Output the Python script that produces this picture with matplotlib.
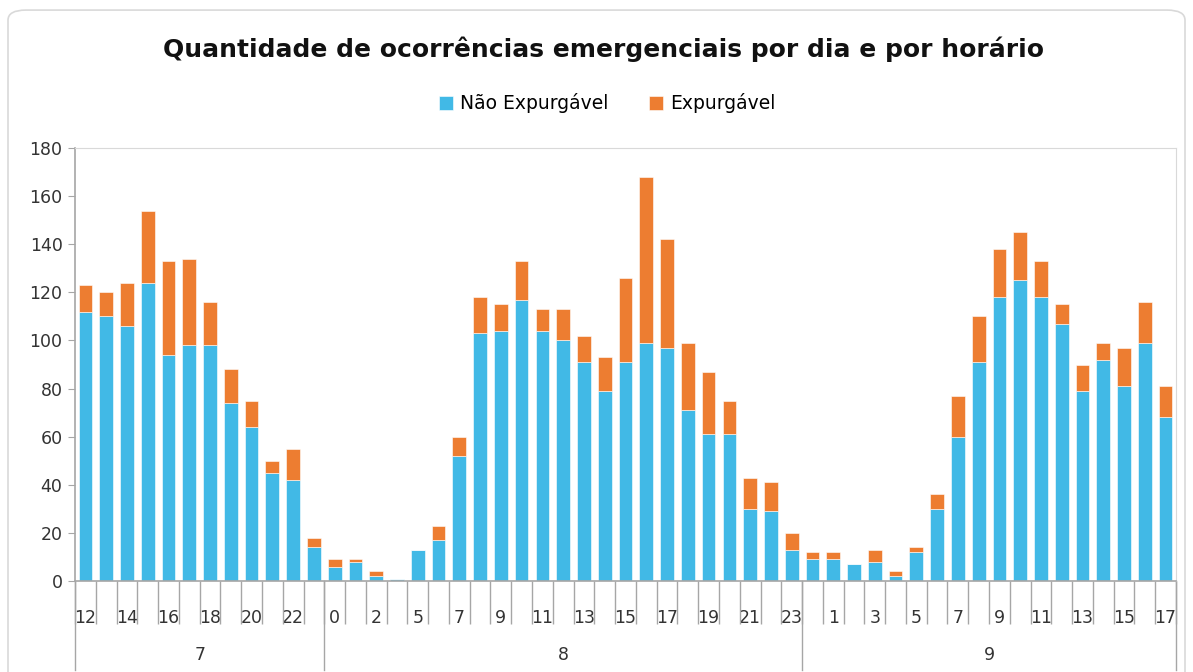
import matplotlib.pyplot as plt
from matplotlib.patches import FancyBboxPatch
import matplotlib.transforms as mtransforms

# hours per day (day 8 has no hour 4)
days = ['7', '8', '9']
hours_d7 = list(range(12, 24))
hours_d8 = [0, 1, 2, 3] + list(range(5, 24))
hours_d9 = list(range(0, 18))

nao_expurgavel = [
    # day 7
    112, 110, 106, 124, 94, 98, 98, 74, 64, 45, 42, 14,
    # day 8
    6, 8, 2, 1, 13, 17, 52, 103, 104, 117, 104, 100,
    91, 79, 91, 99, 97, 71, 61, 61, 30, 29, 13,
    # day 9
    9, 9, 7, 8, 2, 12, 30, 60, 91, 118, 125, 118,
    107, 79, 92, 81, 99, 68,
]
expurgavel = [
    11, 10, 18, 30, 39, 36, 18, 14, 11, 5, 13, 4,
    3, 1, 2, 0, 0, 6, 8, 15, 11, 16, 9, 13,
    11, 14, 35, 69, 45, 28, 26, 14, 13, 12, 7,
    3, 3, 0, 5, 2, 2, 6, 17, 19, 20, 20, 15,
    8, 11, 7, 16, 17, 13,
]

hours = hours_d7 + hours_d8 + hours_d9
group_sizes = [len(hours_d7), len(hours_d8), len(hours_d9)]
x = list(range(len(hours)))

blue = '#41B9E6'
orange = '#ED7D31'
txt = '#333333'

fig = plt.figure(figsize=(11.93, 6.72), dpi=100)
ax = fig.add_axes([75 / 1193, 91 / 672, 1101 / 1193, 433 / 672])

ax.bar(x, nao_expurgavel, width=0.66, color=blue, edgecolor='white',
       linewidth=0.4, label='Não Expurgável')
ax.bar(x, expurgavel, width=0.66, bottom=nao_expurgavel, color=orange,
       edgecolor='white', linewidth=0.4, label='Expurgável')

ax.set_xlim(-0.5, len(hours) - 0.5)
ax.set_ylim(0, 180)
ax.set_yticks(range(0, 181, 20))
ax.tick_params(axis='y', labelsize=12.5, length=5, color='#A6A6A6',
               labelcolor=txt, pad=4)

# hour labels every other category
ax.set_xticks(x[::2])
ax.set_xticklabels([str(h) for h in hours[::2]], fontsize=12.5, color=txt)
ax.tick_params(axis='x', length=0, pad=20)

# category separators
ax.set_xticks([i - 0.5 for i in range(len(hours) + 1)], minor=True)
ax.tick_params(axis='x', which='minor', length=31, width=1.0, color='#A6A6A6',
               direction='out')

for s in ['top', 'right']:
    ax.spines[s].set_color('#D9D9D9')
for s in ['left', 'bottom']:
    ax.spines[s].set_color('#A6A6A6')
    ax.spines[s].set_linewidth(1.2)

# day groups
trans = mtransforms.blended_transform_factory(ax.transData, ax.transAxes)
start = 0
bounds = [-0.5]
for d, n in zip(days, group_sizes):
    mid = start + (n - 1) / 2
    ax.text(mid, -0.17, d, transform=trans, ha='center', va='center',
            fontsize=12.5, color=txt)
    start += n
    bounds.append(start - 0.5)
for b in bounds:
    ax.plot([b, b], [0, -0.205], transform=trans, color='#A6A6A6',
            linewidth=1.0, clip_on=False)

fig.text(0.506, 0.927, 'Quantidade de ocorrências emergenciais por dia e por horário',
         ha='center', va='center', fontsize=18, fontweight='bold', color='#111111')
fig.legend(loc='center', bbox_to_anchor=(0.509, 0.846), ncol=2, frameon=False,
           fontsize=13.5, handlelength=0.75, handleheight=0.75, columnspacing=2.2,
           handletextpad=0.35)

border = FancyBboxPatch((8 / 1193, -0.05), 1177 / 1193, 1.035, transform=fig.transFigure,
                        boxstyle='round,pad=0,rounding_size=0.015',
                        facecolor='none', edgecolor='#D9D9D9', linewidth=1.2)
fig.patches.append(border)

fig.savefig('out.png', dpi=100)
